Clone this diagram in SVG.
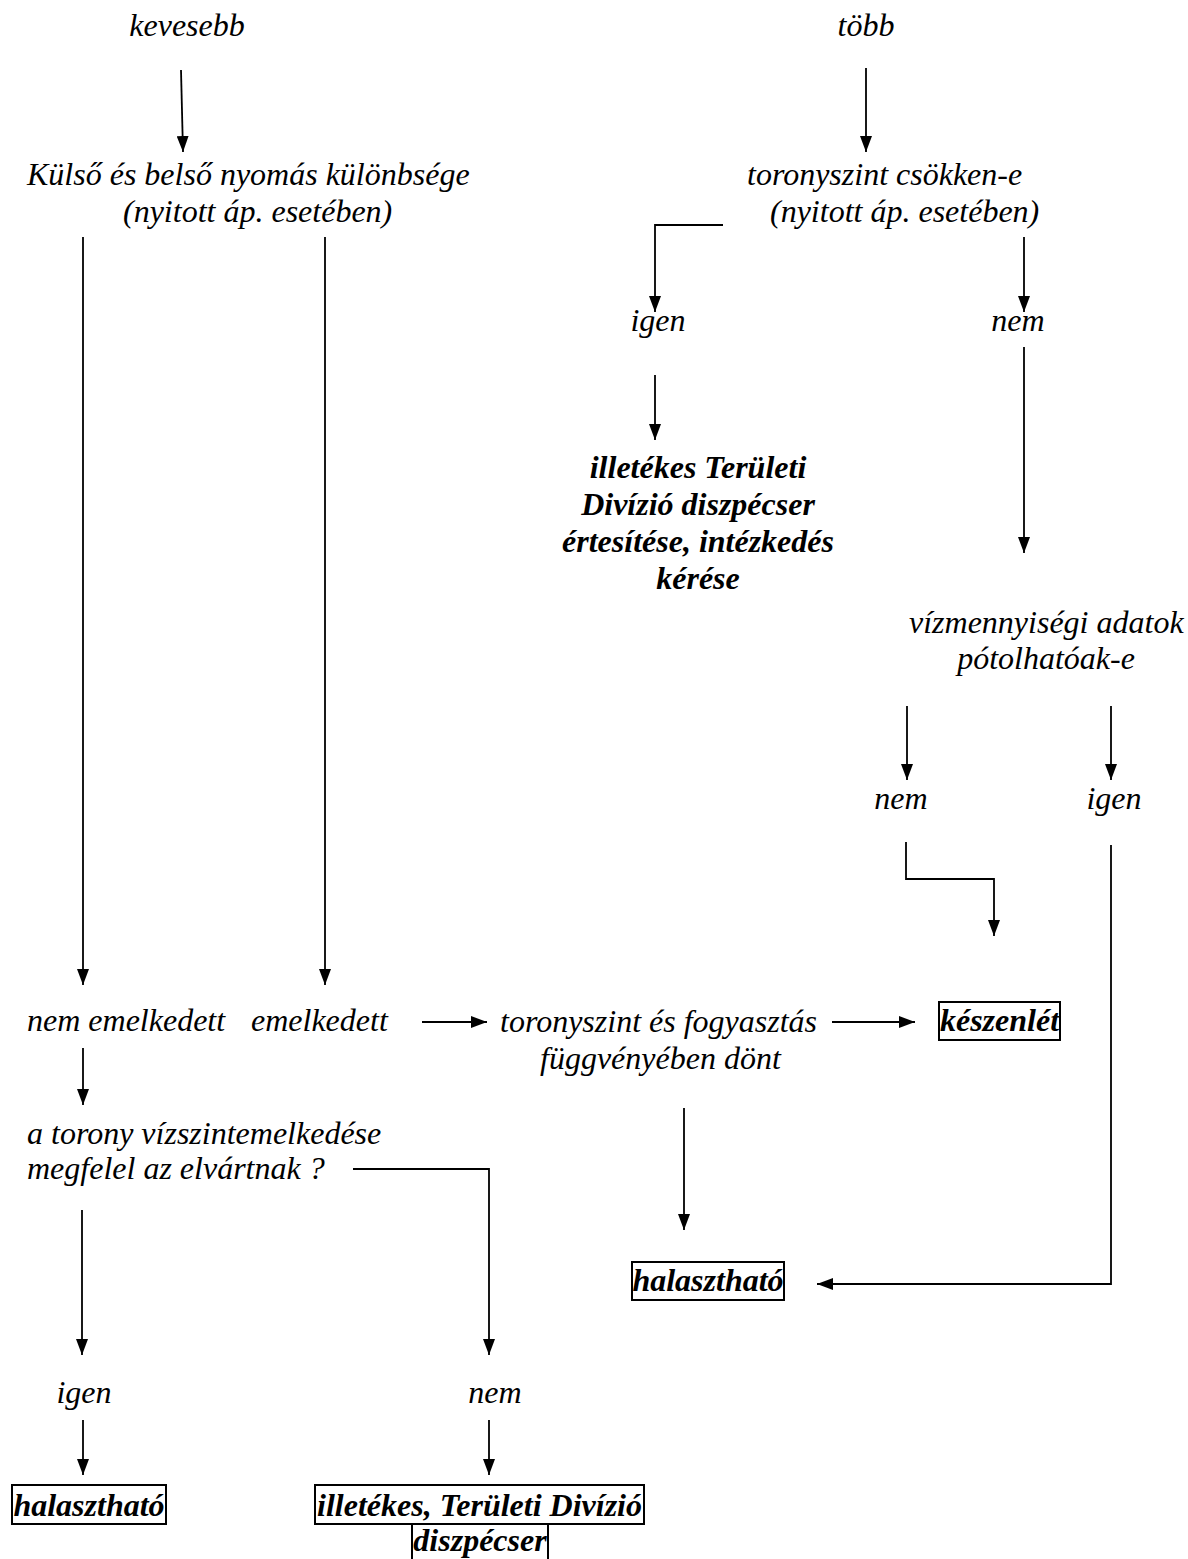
<svg xmlns="http://www.w3.org/2000/svg" width="1188" height="1559" viewBox="0 0 1188 1559">
<defs>
<style>
.t{font-family:"Liberation Serif","Times New Roman",serif;font-style:italic;font-size:32px;fill:#000}
.b{font-family:"Liberation Serif","Times New Roman",serif;font-style:italic;font-weight:bold;font-size:32px;fill:#000}
.m{text-anchor:middle}
.box{fill:none;stroke:#000;stroke-width:2}
.c{fill:none;stroke:#000;stroke-width:1.8}
</style>
<marker id="ah" viewBox="0 0 16 12" markerWidth="16" markerHeight="12" refX="16" refY="6" orient="auto" markerUnits="userSpaceOnUse">
<path d="M0,0 L16,6 L0,12 z" fill="#000"/>
</marker>
</defs>
<rect width="1188" height="1559" fill="#fff"/>
<g id="connectors">
<path class="c" marker-end="url(#ah)" d="M181,70 L183,152"/>
<path class="c" marker-end="url(#ah)" d="M866,68 L866,152"/>
<path class="c" marker-end="url(#ah)" d="M83,237 L83,985"/>
<path class="c" marker-end="url(#ah)" d="M325,237 L325,985"/>
<path class="c" marker-end="url(#ah)" d="M723,225 L655,225 L655,312"/>
<path class="c" marker-end="url(#ah)" d="M1024,237 L1024,312"/>
<path class="c" marker-end="url(#ah)" d="M655,375 L655,440"/>
<path class="c" marker-end="url(#ah)" d="M1024,347 L1024,553"/>
<path class="c" marker-end="url(#ah)" d="M907,706 L907,780"/>
<path class="c" marker-end="url(#ah)" d="M1111,706 L1111,780"/>
<path class="c" marker-end="url(#ah)" d="M906,842 L906,879 L994,879 L994,936"/>
<path class="c" marker-end="url(#ah)" d="M1111,845 L1111,1284 L817,1284"/>
<path class="c" marker-end="url(#ah)" d="M422,1022 L487,1022"/>
<path class="c" marker-end="url(#ah)" d="M832,1022 L915,1022"/>
<path class="c" marker-end="url(#ah)" d="M83,1048 L83,1105"/>
<path class="c" marker-end="url(#ah)" d="M684,1108 L684,1230"/>
<path class="c" marker-end="url(#ah)" d="M353,1169 L489,1169 L489,1355"/>
<path class="c" marker-end="url(#ah)" d="M82,1210 L82,1355"/>
<path class="c" marker-end="url(#ah)" d="M83,1420 L83,1475"/>
<path class="c" marker-end="url(#ah)" d="M489,1420 L489,1475"/>
</g>
<g id="n-kevesebb"><text class="t m" x="187" y="36">kevesebb</text></g>
<g id="n-tobb"><text class="t m" x="866" y="36">több</text></g>
<g id="n-kulso"><text class="t" x="27" y="185">Külső és belső nyomás különbsége</text><text class="t" x="123" y="222">(nyitott áp. esetében)</text></g>
<g id="n-csokken"><text class="t" x="747" y="185">toronyszint csökken-e</text><text class="t" x="770" y="222">(nyitott áp. esetében)</text></g>
<g id="n-igen1"><text class="t m" x="658" y="331">igen</text></g>
<g id="n-nem1"><text class="t m" x="1018" y="331">nem</text></g>
<g id="n-illetekes1"><text class="b m" x="698" y="478">illetékes Területi</text><text class="b m" x="698" y="515">Divízió diszpécser</text><text class="b m" x="698" y="552">értesítése, intézkedés</text><text class="b m" x="698" y="589">kérése</text></g>
<g id="n-vizmenny"><text class="t" x="909" y="633">vízmennyiségi adatok</text><text class="t m" x="1046" y="669">pótolhatóak-e</text></g>
<g id="n-nem2"><text class="t m" x="901" y="809">nem</text></g>
<g id="n-igen2"><text class="t m" x="1114" y="809">igen</text></g>
<g id="n-nememelk"><text class="t" x="27" y="1031">nem emelkedett</text></g>
<g id="n-emelk"><text class="t" x="251" y="1031">emelkedett</text></g>
<g id="n-dont"><text class="t" x="500" y="1032">toronyszint és fogyasztás</text><text class="t" x="540" y="1069">függvényében dönt</text></g>
<g id="n-keszenlet"><rect class="box" x="939" y="1002" width="121" height="38"/><text class="b m" x="999.5" y="1031">készenlét</text></g>
<g id="n-torony"><text class="t" x="27" y="1144">a torony vízszintemelkedése</text><text class="t" x="27" y="1179">megfelel az elvártnak ?</text></g>
<g id="n-halaszt1"><rect class="box" x="632" y="1262" width="152" height="38"/><text class="b m" x="708" y="1291">halasztható</text></g>
<g id="n-igen3"><text class="t m" x="84" y="1403">igen</text></g>
<g id="n-nem3"><text class="t m" x="495" y="1403">nem</text></g>
<g id="n-halaszt2"><rect class="box" x="12" y="1485" width="154" height="39"/><text class="b m" x="89" y="1516">halasztható</text></g>
<g id="n-illetekes2"><rect class="box" x="315" y="1485" width="329" height="39"/><text class="b m" x="479.5" y="1516">illetékes, Területi Divízió</text><rect class="box" x="412" y="1524" width="136" height="45"/><text class="b m" x="480" y="1551">diszpécser</text></g>
</svg>
